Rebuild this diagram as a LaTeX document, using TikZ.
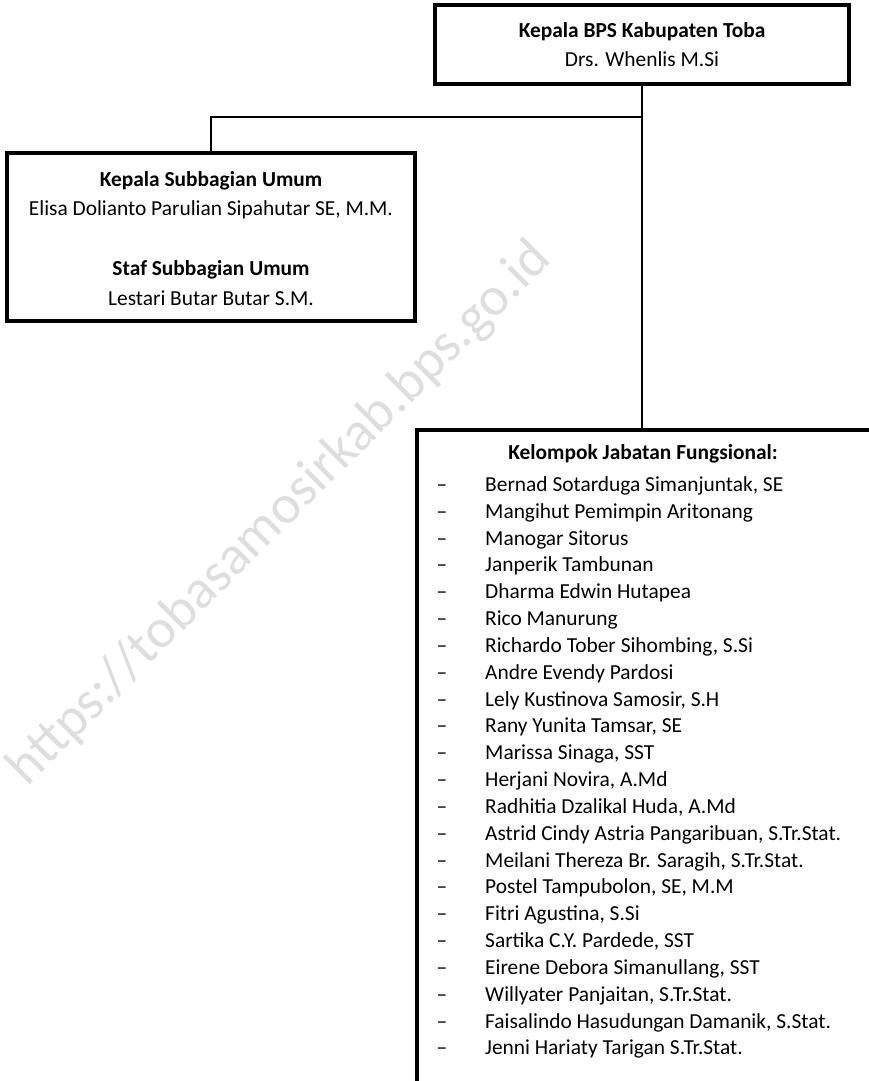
\documentclass[tikz,border=0pt]{standalone}
\usepackage{fontspec}
\setmainfont{Carlito}
\begin{document}
\begin{tikzpicture}[x=1pt,y=-1pt,
  box/.style={draw=black, line width=4pt, inner sep=0pt},
  conn/.style={draw=black, line width=1.6pt},
  txt/.style={inner sep=0pt, font=\fontsize{21.4}{26}\selectfont},
  btxt/.style={inner sep=0pt, font=\fontsize{21.4}{26}\selectfont\bfseries},
  wm/.style={inner sep=0pt, text=black!13, font=\fontsize{55}{60}\selectfont}]
\useasboundingbox (0,0) rectangle (869,1081);
\clip (0,0) rectangle (869,1081);
% watermark
\node[wm, rotate=45] (wm) at (280,514) {https://tobasamosirkab.bps.go.id};
% boxes
\node[box, minimum width=414pt, minimum height=79pt] (top) at (642,44.5) {};
\node[box, minimum width=408pt, minimum height=168pt] (left) at (211,237) {};
\node[box, minimum width=455pt, minimum height=700pt, anchor=north west] (fun) at (415,428) {};
% connectors
\coordinate (j) at (top.south |- 0,117);
\draw[conn] (top.south) -- (top.south |- fun.north);
\draw[conn] (left.north) |- (j);
% texts
\node[btxt, anchor=base] (t1) at (642,37.3) {Kepala BPS Kabupaten Toba};
\node[txt, anchor=base] (t2) at (642,66.7) {Drs. Whenlis M.Si};
\node[btxt, anchor=base] (l1) at (211,186) {Kepala Subbagian Umum};
\node[txt, anchor=base] (l2) at (211,215) {Elisa Dolianto Parulian Sipahutar SE, M.M.};
\node[btxt, anchor=base] (l3) at (211,275) {Staf Subbagian Umum};
\node[txt, anchor=base] (l4) at (211,305) {Lestari Butar Butar S.M.};
\node[btxt, anchor=base] (h) at (643,459.3) {Kelompok Jabatan Fungsional:};
\foreach \n [count=\i from 0] in {
  {Bernad Sotarduga Simanjuntak, SE},
  {Mangihut Pemimpin Aritonang},
  {Manogar Sitorus},
  {Janperik Tambunan},
  {Dharma Edwin Hutapea},
  {Rico Manurung},
  {Richardo Tober Sihombing, S.Si},
  {Andre Evendy Pardosi},
  {Lely Kustinova Samosir, S.H},
  {Rany Yunita Tamsar, SE},
  {Marissa Sinaga, SST},
  {Herjani Novira, A.Md},
  {Radhitia Dzalikal Huda, A.Md},
  {Astrid Cindy Astria Pangaribuan, S.Tr.Stat.},
  {Meilani Thereza Br. Saragih, S.Tr.Stat.},
  {Postel Tampubolon, SE, M.M},
  {Fitri Agustina, S.Si},
  {Sartika C.Y. Pardede, SST},
  {Eirene Debora Simanullang, SST},
  {Willyater Panjaitan, S.Tr.Stat.},
  {Faisalindo Hasudungan Damanik, S.Stat.},
  {Jenni Hariaty Tarigan S.Tr.Stat.}} {
  \node[txt, anchor=base] (d\i) at ({442},{491.5+26.83*\i}) {–};
  \node[txt, anchor=base west] (n\i) at ({485},{491.5+26.83*\i}) {\n};
}
\end{tikzpicture}
\end{document}
